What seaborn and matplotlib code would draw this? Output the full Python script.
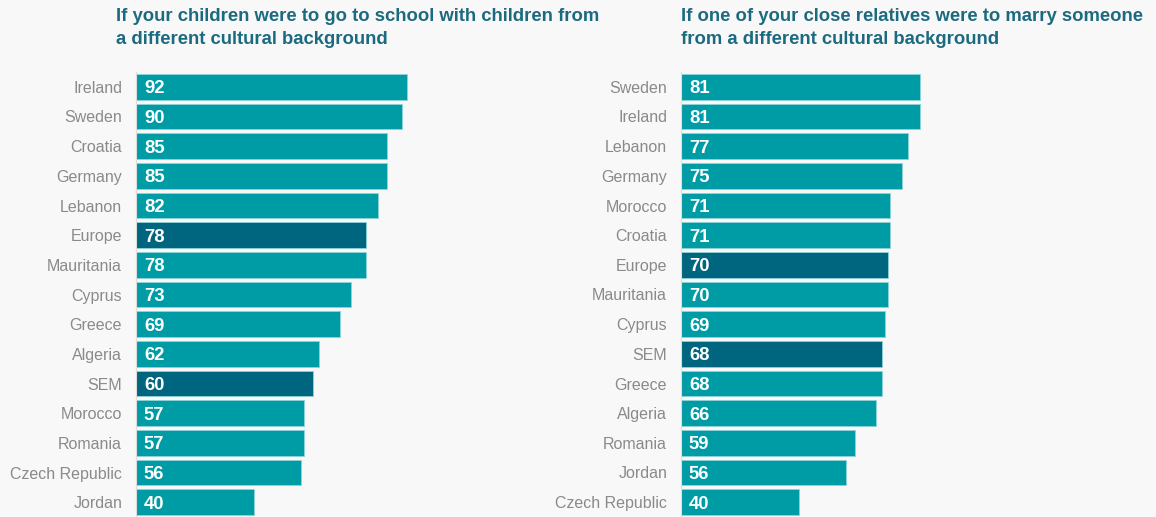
import matplotlib
matplotlib.use("Agg")
import matplotlib.pyplot as plt
import seaborn as sns
import pandas as pd

# --- datos ---
left_countries = ["Ireland", "Sweden", "Croatia", "Germany", "Lebanon", "Europe",
                  "Mauritania", "Cyprus", "Greece", "Algeria", "SEM", "Morocco",
                  "Romania", "Czech Republic", "Jordan"]
left_values = [92, 90, 85, 85, 82, 78, 78, 73, 69, 62, 60, 57, 57, 56, 40]

right_countries = ["Sweden", "Ireland", "Lebanon", "Germany", "Morocco", "Croatia",
                   "Europe", "Mauritania", "Cyprus", "SEM", "Greece", "Algeria",
                   "Romania", "Jordan", "Czech Republic"]
right_values = [81, 81, 77, 75, 71, 71, 70, 70, 69, 68, 68, 66, 59, 56, 40]

left_title = "If your children were to go to school with children from\na different cultural background"
right_title = "If one of your close relatives were to marry someone\nfrom a different cultural background"

highlight = ["Europe", "SEM"]

BG = "#f8f8f8"
TEAL = "#009ca6"
DARK = "#006680"
TITLE_COL = "#1c6a80"
LABEL_COL = "#8a8a8a"

sns.set_theme(style="white")
plt.rcParams["font.family"] = ["Liberation Sans", "DejaVu Sans"]

W, H = 1156, 517
fig = plt.figure(figsize=(W / 100, H / 100), dpi=100, facecolor=BG)


def px_axes(x0, y0, w, h):
    return fig.add_axes([x0 / W, 1 - (y0 + h) / H, w / W, h / H])


def panel(ax, countries, values, title, title_x):
    df = pd.DataFrame({"country": countries, "value": values})
    df["grupo"] = ["hl" if c in highlight else "base" for c in countries]
    sns.barplot(data=df, x="value", y="country", hue="grupo",
                palette={"base": TEAL, "hl": DARK}, dodge=False, width=0.86,
                saturation=1, edgecolor="#8fd3d7", linewidth=0.6,
                legend=False, ax=ax)
    ax.set_facecolor(BG)
    ax.set_xlim(0, 100)
    ax.set_ylim(14.43, -0.5)
    ax.set_xlabel("")
    ax.set_ylabel("")
    ax.set_xticks([])
    for s in ["top", "right", "bottom"]:
        ax.spines[s].set_visible(False)
    ax.spines["left"].set_color("#dddddd")
    ax.spines["left"].set_linewidth(0.8)
    ax.tick_params(axis="y", which="major", length=0, pad=10,
                   labelsize=11.5, labelcolor=LABEL_COL)
    ax.set_yticks([i + 0.5 for i in range(-1, len(countries))], minor=True)
    ax.tick_params(axis="y", which="minor", length=4, color="#dddddd", width=0.8)
    for i, v in enumerate(values):
        ax.text(2.7, i, str(v), color="white", fontweight="bold",
                fontsize=13.3, va="center_baseline", ha="left")
    fig.text(title_x / W, 1 - 8 / H, title, color=TITLE_COL, fontweight="bold",
             fontsize=13.3, ha="left", va="top", linespacing=1.5)


ax1 = px_axes(136, 72, 295, 445)
panel(ax1, left_countries, left_values, left_title, 116)

ax2 = px_axes(681, 72, 295, 445)
panel(ax2, right_countries, right_values, right_title, 681)

plt.savefig("out.png", dpi=100, facecolor=BG)
plt.close()
